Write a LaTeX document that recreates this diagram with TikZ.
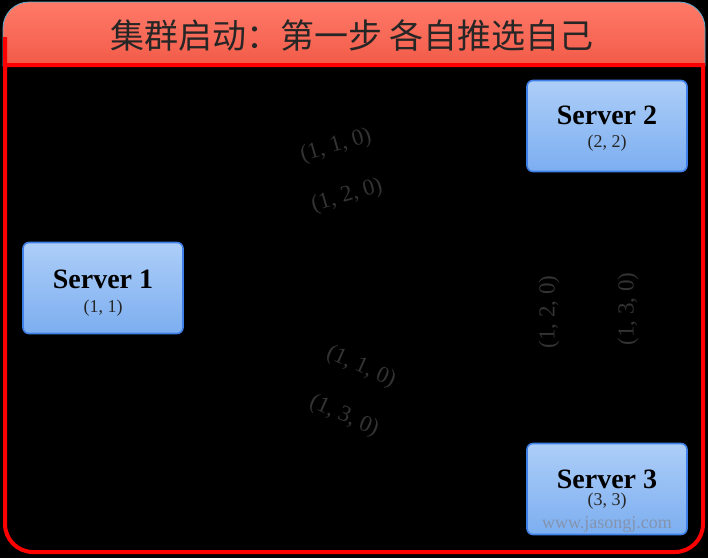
\documentclass[tikz,border=0pt]{standalone}
\usepackage{fontspec}
\setmainfont{Liberation Serif}
\newfontfamily\cjk{Noto Sans CJK SC}
\definecolor{hdtop}{HTML}{FF7A68}
\definecolor{hdbot}{HTML}{F25A48}
\definecolor{hdline}{HTML}{5AAFD0}
\definecolor{boxtop}{HTML}{ADCEF8}
\definecolor{boxbot}{HTML}{7CAEF0}
\definecolor{boxline}{HTML}{3F80E8}
\definecolor{lbl}{HTML}{333333}
\definecolor{wm}{HTML}{8494AE}
\tikzset{
  srvbox/.style={rectangle, rounded corners=6pt, draw=boxline, line width=1.6pt,
    top color=boxtop, bottom color=boxbot, minimum width=160pt, minimum height=91pt, inner sep=0pt},
  srvname/.style={font=\bfseries\fontsize{28}{32}\selectfont, text=black, inner sep=0pt},
  srvsub/.style={font=\fontsize{18}{21}\selectfont, text=black!85, inner sep=0pt},
  vote/.style={font=\fontsize{23}{26}\selectfont, text=lbl, inner sep=0pt},
}
\begin{document}
\begin{tikzpicture}[x=1pt,y=-1pt]
\useasboundingbox (0,0) rectangle (708,558);
\fill[black] (0,0) rectangle (708,558);
% header
\shade[top color=hdtop, bottom color=hdbot, draw=hdline, line width=0.8pt]
  (3,66) {[rounded corners=26pt] -- (3,2) -- (705,2)} -- (705,66) -- cycle;
\node[font=\cjk\fontsize{34}{38}\selectfont, text=black!85, inner sep=0pt] (title) at (352,36) {集群启动：第一步 各自推选自己};
% frame
\draw[red, line width=4pt] (5,65) -- (703,65) {[rounded corners=28pt] -- (703,552) -- (5,552) -- (5,65)} -- cycle;
% servers
\node[srvbox] (s1) at (103,288) {};
\node[srvname] (s1t) at ([yshift=9pt]s1.center) {Server 1};
\node[srvsub] (s1s) at ([yshift=-20pt]s1.center) {(1, 1)};
\node[srvbox] (s2) at (607,126) {};
\node[srvname] (s2t) at ([yshift=11pt]s2.center) {Server 2};
\node[srvsub] (s2s) at ([yshift=-17pt]s2.center) {(2, 2)};
\node[srvbox] (s3) at (607,489) {};
\node[srvname] (s3t) at ([yshift=10pt]s3.center) {Server 3};
\node[srvsub] (s3s) at ([yshift=-12pt]s3.center) {(3, 3)};
\node[font=\fontsize{18}{20}\selectfont, text=wm, inner sep=0pt] (wmk) at ([yshift=-35pt]s3.center) {www.jasongj.com};
% votes
\node[vote, rotate=16] (v12a) at (336,146) {(1, 1, 0)};
\node[vote, rotate=16] (v12b) at (347,196) {(1, 2, 0)};
\node[vote, rotate=-24] (v13a) at (361,367) {(1, 1, 0)};
\node[vote, rotate=-24] (v13b) at (344,416) {(1, 3, 0)};
\node[vote, rotate=90] (v23a) at (549,312) {(1, 2, 0)};
\node[vote, rotate=90] (v23b) at (628,309) {(1, 3, 0)};
\end{tikzpicture}
\end{document}
